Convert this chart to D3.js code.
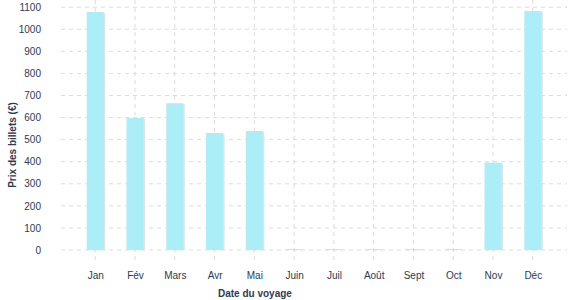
<!DOCTYPE html>
<html>
<head>
<meta charset="utf-8">
<script src="https://cdn.jsdelivr.net/npm/d3@7"></script>
<style>
  body { margin: 0; background: #fff; }
  svg text { font-family: "Liberation Sans", Arial, sans-serif; }
</style>
</head>
<body>
<svg width="577" height="300"></svg>
<script>
// data
var months = ["Jan", "Fév", "Mars", "Avr", "Mai", "Juin", "Juil", "Août", "Sept", "Oct", "Nov", "Déc"];
var prices = [1078, 598, 665, 530, 539, 4, 4, 4, 4, 4, 396, 1083];
var yTicks = [0, 100, 200, 300, 400, 500, 600, 700, 800, 900, 1000, 1100];

var svg = d3.select("svg");
var textColor = "#2c3a52";

var plot = { left: 61, right: 567, top: 7.2, bottom: 250 };

var x = d3.scalePoint().domain(months).range([plot.left, plot.right]).padding(0.86);
var y = d3.scaleLinear().domain([0, 1100]).range([plot.bottom, plot.top]);

var barW = 17;

// horizontal grid
svg.append("g").selectAll("line").data(yTicks).enter().append("line")
  .attr("x1", plot.left).attr("x2", plot.right)
  .attr("y1", function(d){ return y(d); }).attr("y2", function(d){ return y(d); })
  .attr("stroke", "#dcdcdc").attr("stroke-dasharray", "4,4");

// vertical grid (through the month positions, down past zero)
svg.append("g").selectAll("line").data(months).enter().append("line")
  .attr("x1", function(d){ return x(d); }).attr("x2", function(d){ return x(d); })
  .attr("y1", 0).attr("y2", 264)
  .attr("stroke", "#dcdcdc").attr("stroke-dasharray", "4,4");

// bar shadows
svg.append("g").selectAll("rect").data(prices).enter().append("rect")
  .attr("x", function(d, i){ return x(months[i]) - barW / 2 + 1.5; })
  .attr("y", function(d){ return y(d) + 1; })
  .attr("width", barW)
  .attr("height", function(d){ return Math.max(0, y(0) - y(d) - 1); })
  .attr("fill", "#e2e2e2");

// bars
svg.append("g").selectAll("rect").data(prices).enter().append("rect")
  .attr("x", function(d, i){ return x(months[i]) - barW / 2; })
  .attr("y", function(d){ return y(d); })
  .attr("width", barW)
  .attr("height", function(d){ return y(0) - y(d); })
  .attr("fill", "#abeef8");

// y axis
var yAxis = svg.append("g").attr("transform", "translate(45,0)")
  .call(d3.axisLeft(y).tickValues(yTicks).tickFormat(d3.format("d")).tickSize(0).tickPadding(4));
yAxis.select(".domain").remove();
yAxis.selectAll("text").attr("fill", textColor).style("font-size", "10px");

// x axis
var xAxis = svg.append("g").attr("transform", "translate(0,269)")
  .call(d3.axisBottom(x).tickSize(0).tickPadding(3));
xAxis.select(".domain").remove();
xAxis.selectAll("text").attr("fill", textColor).style("font-size", "10px");

// axis titles
svg.append("text")
  .attr("transform", "translate(16,145) rotate(-90)")
  .attr("text-anchor", "middle")
  .attr("fill", textColor)
  .style("font-size", "10px").style("font-weight", "bold")
  .text("Prix des billets (€)");

svg.append("text")
  .attr("x", 218).attr("y", 297)
  .attr("fill", textColor)
  .style("font-size", "10px").style("font-weight", "bold")
  .text("Date du voyage");
</script>
</body>
</html>
